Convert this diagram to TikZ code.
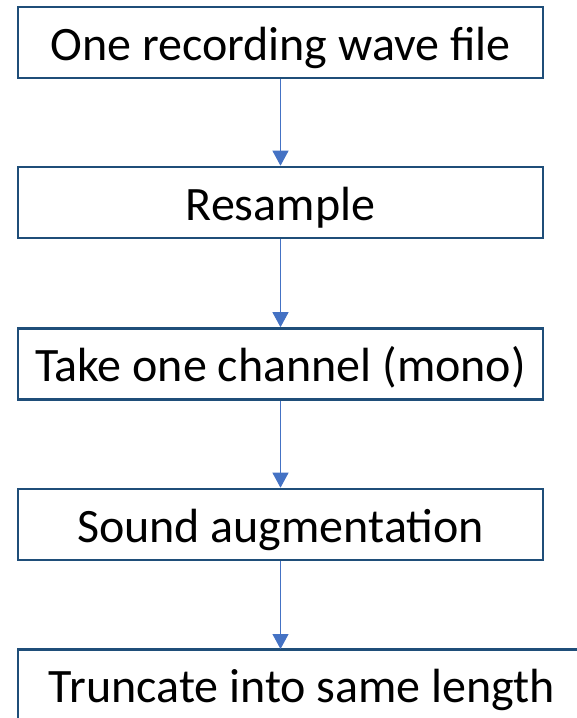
\documentclass[tikz,border=0pt]{standalone}
\usepackage{fontspec}
\setmainfont{Carlito}
\usetikzlibrary{arrows.meta}
\definecolor{boxline}{HTML}{1F4E79}
\definecolor{arrowline}{HTML}{4472C4}
\tikzset{
  flowbox/.style={draw=boxline, line width=2.6pt, rectangle, minimum height=71pt, inner sep=0pt, text height=45pt, text depth=10pt, font=\fontsize{48}{56}\selectfont, text=black},
  flowarrow/.style={draw=arrowline, line width=1.1pt, -{Triangle[width=16pt,length=15pt]}, arrowline}
}
\begin{document}
\begin{tikzpicture}[x=1pt,y=-1pt]
\useasboundingbox (0,0) rectangle (577,718);
\node[flowbox, minimum width=525pt] (a) at (280.5,42.5) {One recording wave file};
\node[flowbox, minimum width=525pt] (b) at (280.5,202.5) {Resample};
\node[flowbox, minimum width=525pt] (c) at (280.5,364) {Take one channel (mono)};
\node[flowbox, minimum width=525pt] (d) at (280.5,524.5) {Sound augmentation};
\node[flowbox, minimum width=568pt] (e) at (302,685) {Truncate into same length};
\coordinate (e1) at (280.5,649);
\draw[flowarrow] (a.south) -- (b.north);
\draw[flowarrow] (b.south) -- (c.north);
\draw[flowarrow] (c.south) -- (d.north);
\draw[flowarrow] (d.south) -- (e1);
\end{tikzpicture}
\end{document}
